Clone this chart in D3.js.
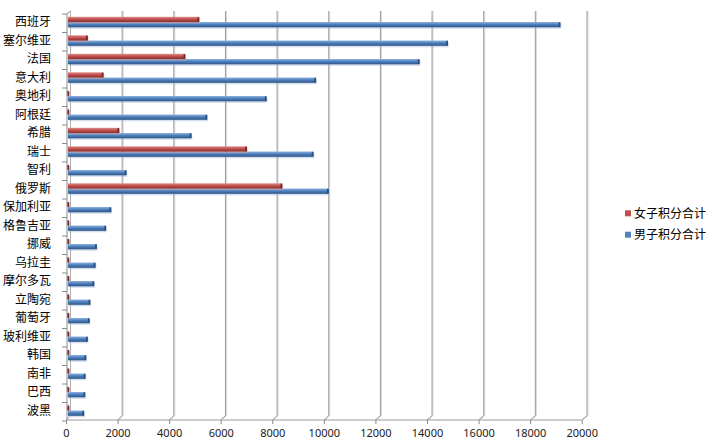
<!DOCTYPE html>
<html><head><meta charset="utf-8">
<script src="https://cdn.jsdelivr.net/npm/d3@7/dist/d3.min.js"></script>
<style>
html,body{margin:0;padding:0;background:#fff;}
svg{display:block;font-family:"Noto Sans CJK SC","Noto Sans",sans-serif;}
</style></head>
<body><svg id="c" width="714" height="447"></svg>
<script>
const categories = ["西班牙","塞尔维亚","法国","意大利","奥地利","阿根廷","希腊","瑞士","智利","俄罗斯","保加利亚","格鲁吉亚","挪威","乌拉圭","摩尔多瓦","立陶宛","葡萄牙","玻利维亚","韩国","南非","巴西","波黑"];
const femaleValues = [5080,760,4540,1370,30,30,1980,6930,30,8300,30,30,40,30,40,30,30,40,30,40,30,40];
const maleValues = [19080,14720,13620,9610,7690,5390,4780,9510,2260,10100,1670,1470,1110,1060,1010,860,830,760,700,670,660,620];
const xTicks = [0,2000,4000,6000,8000,10000,12000,14000,16000,18000,20000];
const seriesNames = ["女子积分合计","男子积分合计"];
const seriesColors = ["#C0504D","#4F81BD"];

const svg = d3.select("#c");
const defs = svg.append("defs");
function grad(id, c1, c2, c3){
  const g = defs.append("linearGradient").attr("id",id).attr("x1",0).attr("y1",0).attr("x2",0).attr("y2",1);
  g.append("stop").attr("offset","0%").attr("stop-color",c1);
  g.append("stop").attr("offset","45%").attr("stop-color",c2);
  g.append("stop").attr("offset","100%").attr("stop-color",c3);
}
grad("gRed","#e08e8b","#c0504d","#8c2f2c");
grad("gBlue","#8db3e2","#4f81bd","#2e5587");

const xb = d3.scaleLinear([0,20000],[70.5,587]);   // back wall
const xf = d3.scaleLinear([0,20000],[66,581.7]);   // front floor edge
const x = d3.scaleLinear([0,20000],[68,584]);      // bars
const y = d3.scaleBand(categories,[14,421]).padding(0);
const topY = 11, backY = 415.7, frontY = 420;

// gridlines (3D)
const grid = svg.append("g");
xTicks.forEach(t=>{
  if(t===0) return;
  grid.append("path").attr("d",`M${xb(t)+1},${topY} V${backY} L${xf(t)+1},${frontY}`).attr("fill","none").attr("stroke","#d9d9d9").attr("stroke-width",1);
  grid.append("path").attr("d",`M${xb(t)},${topY} V${backY} L${xf(t)},${frontY}`).attr("fill","none").attr("stroke","#9a9a9a").attr("stroke-width",1);
});
// left wall / axis
svg.append("path").attr("d",`M${xb(0)},${topY} V${backY} L${xf(0)},${frontY}`).attr("fill","none").attr("stroke","#b0b0b0");
svg.append("path").attr("d",`M${xf(0)+1},${14} L${xb(0)},${topY}`).attr("fill","none").attr("stroke","#8a8a8a");
svg.append("line").attr("x1",xf(0)+1).attr("x2",xf(0)+1).attr("y1",14).attr("y2",frontY).attr("stroke","#8a8a8a");
// category ticks
categories.concat([null]).forEach((c,i)=>{
  const yy = c===null ? 421 : y(c);
  svg.append("line").attr("x1",62).attr("x2",xf(0)+1).attr("y1",yy).attr("y2",yy).attr("stroke","#8a8a8a");
});
// bottom axis line
svg.append("line").attr("x1",xf(0)).attr("x2",xf(20000)).attr("y1",frontY).attr("y2",frontY).attr("stroke","#9a9a9a");

// x axis ticks and labels
const ax = svg.append("g").attr("transform",`translate(0,${frontY})`)
  .call(d3.axisBottom(xf).tickValues(xTicks).tickSize(4).tickPadding(5).tickFormat(d3.format("d")));
ax.select(".domain").remove();
ax.selectAll(".tick line").attr("stroke","#8a8a8a");
ax.selectAll(".tick text").attr("font-size","11px").attr("fill","#222").attr("font-family","'Noto Sans','DejaVu Sans',sans-serif");

// bars
const bh = 5.3;
function drawBars(vals, offset, gid, dark, shadow){
  const g = svg.append("g");
  categories.forEach((c,i)=>{
    const y0 = y(c)+offset;
    const w = Math.max(x(vals[i])-x(0),1);
    g.append("rect").attr("x",x(0)+1).attr("y",y0+1.5).attr("width",w).attr("height",bh).attr("fill",shadow).attr("opacity",0.45);
    g.append("rect").attr("x",x(0)).attr("y",y0).attr("width",w).attr("height",bh).attr("fill",`url(#${gid})`);
    g.append("rect").attr("x",x(0)+w-1.6).attr("y",y0+0.3).attr("width",1.8).attr("height",bh-0.6).attr("fill",dark);
  });
}
drawBars(maleValues, 8, "gBlue", "#2b4f7e", "#9fb6d4");
drawBars(femaleValues, 2.8, "gRed", "#7a2826", "#d4a09e");

// category labels
svg.append("g").selectAll("text").data(categories).join("text")
  .attr("x",51).attr("y",d=>y(d)+8.2).attr("dy","0.35em").attr("text-anchor","end")
  .attr("font-size","12px").attr("fill","#000").text(d=>d);

// legend
const lg = svg.append("g");
[0,1].forEach(i=>{
  const yy = 213.3 + i*21.4;
  lg.append("rect").attr("x",625).attr("y",yy-3).attr("width",6).attr("height",6).attr("fill",seriesColors[i]);
  lg.append("text").attr("x",634).attr("y",yy).attr("dy","0.35em").attr("font-size","12px").attr("fill","#000").text(seriesNames[i]);
});
</script></body></html>
